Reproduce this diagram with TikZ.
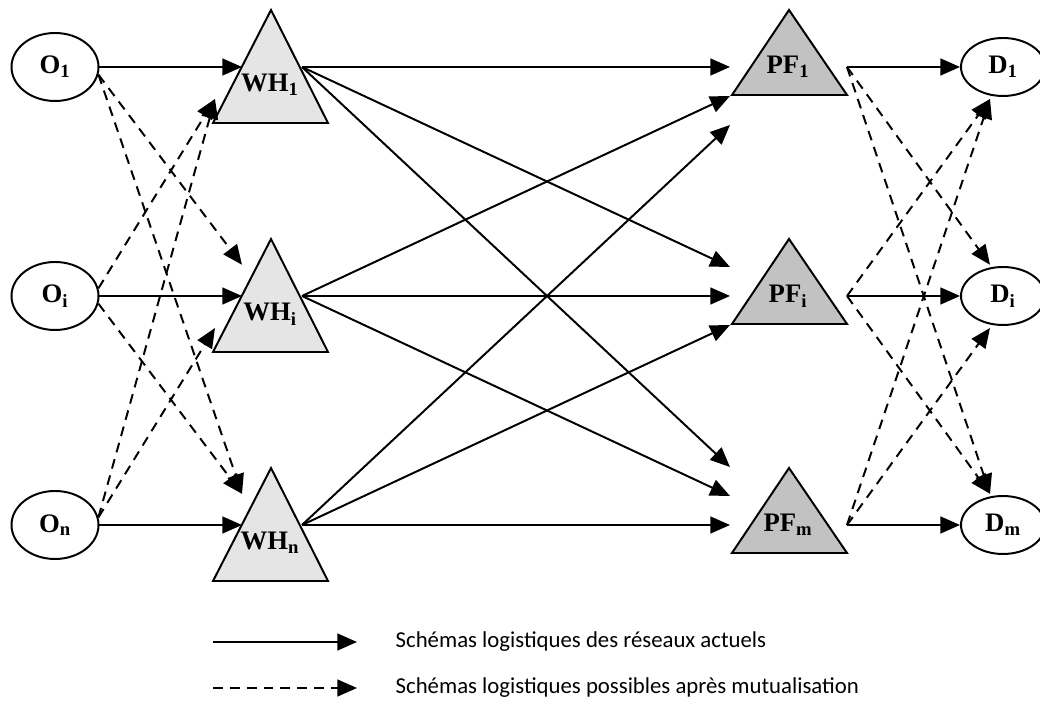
\documentclass[tikz,border=0pt]{standalone}
\usepackage{fontspec}
\setmainfont{Liberation Serif}
\newfontfamily\legendfont{Carlito}
\usepackage{xcolor}
\usetikzlibrary{
  arrows.meta,
  shapes.geometric,
}
\definecolor{whfill}{gray}{0.9}
\definecolor{pffill}{gray}{0.76}

\begin{document}
\begin{tikzpicture}[
  line width=1.4pt,
  >={Triangle[length=14pt,width=12pt]},
  flow/.style={->},
  maybe/.style={->, dash pattern=on 7pt off 5pt},
  lbl/.style={font=\fontsize{19}{21}\selectfont\bfseries, inner sep=1pt},
  site/.style={lbl, draw, ellipse, minimum width=2.175cm,
               minimum height=1.7cm},
  client/.style={lbl, draw, ellipse, minimum width=2.1cm,
                 minimum height=1.45cm},
  legend/.style={font=\legendfont\fontsize{16.2}{18}\selectfont, anchor=west},
]
\useasboundingbox (0,0) rectangle (26,17.725);

\foreach \k/\sub/\pf in {1/1/1, 2/i/i, 3/n/m}{
  \pgfmathsetmacro{\y}{16.05-(\k-1)*5.725}
  \node[site] (O\k) at (1.375,\y) {O\textsubscript{\sub}};
  \filldraw[fill=whfill] (5.325,\y-1.4) -- (8.2,\y-1.4)
    -- (6.775,\y+1.425) -- cycle;
  \node[lbl] (WH\k) at (6.75,\y-0.45) {WH\textsubscript{\sub}};
  \filldraw[fill=pffill] (18.3,\y-0.7) -- (21.175,\y-0.7)
    -- (19.725,\y+1.425) -- cycle;
  \node[lbl] (PF\k) at (19.7,\y) {PF\textsubscript{\pf}};
  \node[client] (D\k) at (25.075,\y) {D\textsubscript{\pf}};
  \coordinate (WH\k-w) at (6.05,\y);
  \coordinate (WH\k-nw) at (6.05,\y+0.78);
  \coordinate (WH\k-sw) at (5.375,\y-0.8);
  \coordinate (WH\k-e) at (7.55,\y);
  \coordinate (PF\k-e) at (21.175,\y);
  \coordinate (D\k-nw) at (24.75,\y+0.78);
  \coordinate (D\k-sw) at (24.75,\y-0.8);
  \foreach \j in {1,2,3}{
    \coordinate (PF\k-in\j) at (18.25,\y-\j*0.725+\k*0.725);
  }
}

\foreach \k in {1,2,3}{
  \draw[flow] (O\k.east) -- (WH\k-w);
  \draw[flow] (PF\k-e) -- (D\k.west);
  \foreach \j in {1,2,3}{
    \draw[flow] (WH\j-e) -- (PF\k-in\j);
  }
}

\foreach \j in {1,2,3}{
  \foreach \k in {1,2,3}{
    \ifnum\j<\k
      \draw[maybe] (O\j.-10) -- (WH\k-nw);
      \draw[maybe] (PF\j-e) -- (D\k-nw);
    \fi
    \ifnum\j>\k
      \draw[maybe] (O\j.10) -- (WH\k-sw);
      \draw[maybe] (PF\j-e) -- (D\k-sw);
    \fi
  }
}

\coordinate (legA) at (5.325,1.675);
\coordinate (legB) at (8.925,1.675);
\coordinate (legC) at (5.325,0.525);
\coordinate (legD) at (8.925,0.525);
\draw[flow] (legA) -- (legB);
\draw[maybe] (legC) -- (legD);
\node[legend] (legtxtA) at (9.75,1.675)
  {Schémas logistiques des réseaux actuels};
\node[legend] (legtxtB) at (9.75,0.525)
  {Schémas logistiques possibles après mutualisation};

\end{tikzpicture}
\end{document}
